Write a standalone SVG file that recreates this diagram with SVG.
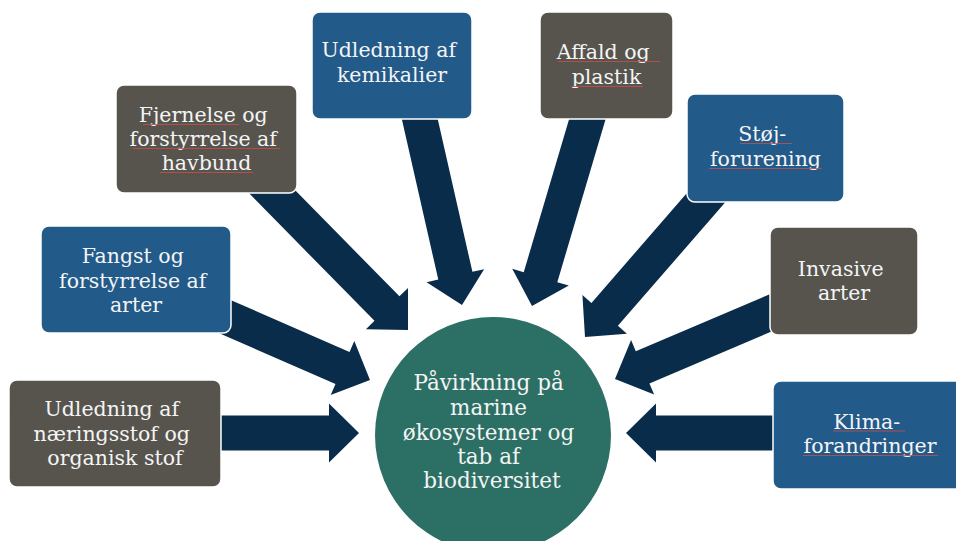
<svg xmlns="http://www.w3.org/2000/svg" width="956" height="541" viewBox="0 0 956 541">
  <style>
    .arrow { fill: #0a2c4b; }
    .box { stroke: #ffffff; stroke-width: 1.5; }
    .gray { fill: #57544e; }
    .blue { fill: #225a8a; }
    .hub { fill: #2c6f64; }
    .lbl { font-family: "DejaVu Serif", "Liberation Serif", serif; font-size: 20.5px; fill: #f4f4f4; text-anchor: middle; }
    .hub-lbl { font-size: 21.5px; }
    .spell { stroke: #c9504d; stroke-width: 1; opacity: 0.8; }
  </style>

  <!-- block arrows pointing into the centre circle (drawn under the boxes) -->
  <g id="connectors">
    <path class="arrow" transform="translate(359 433)" d="M -150 -17.5 H -30 V -29.5 L 0 0 L -30 29.5 V 17.5 H -150 Z"/>
    <path class="arrow" transform="translate(370 380) rotate(23.6)" d="M -170 -17.5 H -30 V -29.5 L 0 0 L -30 29.5 V 17.5 H -170 Z"/>
    <path class="arrow" transform="translate(408 330) rotate(45.5)" d="M -225 -17.5 H -30 V -29.5 L 0 0 L -30 29.5 V 17.5 H -225 Z"/>
    <path class="arrow" transform="translate(462 305) rotate(77.2)" d="M -210 -17.5 H -30 V -29.5 L 0 0 L -30 29.5 V 17.5 H -210 Z"/>
    <path class="arrow" transform="translate(532 306) rotate(106.5)" d="M -205 -17.5 H -30 V -29.5 L 0 0 L -30 29.5 V 17.5 H -205 Z"/>
    <path class="arrow" transform="translate(585 337) rotate(131)" d="M -200 -17.5 H -30 V -29.5 L 0 0 L -30 29.5 V 17.5 H -200 Z"/>
    <path class="arrow" transform="translate(615 379) rotate(157)" d="M -180 -17.5 H -30 V -29.5 L 0 0 L -30 29.5 V 17.5 H -180 Z"/>
    <path class="arrow" transform="translate(626 433) rotate(180)" d="M -170 -17.5 H -30 V -29.5 L 0 0 L -30 29.5 V 17.5 H -170 Z"/>
  </g>

  <g id="hub">
    <circle class="hub" cx="493" cy="435" r="118"/>
    <text class="lbl hub-lbl">
      <tspan x="492" y="390">Påvirkning på</tspan>
      <tspan x="492" y="415">marine</tspan>
      <tspan x="492" y="440">økosystemer og</tspan>
      <tspan x="492" y="464">tab af</tspan>
      <tspan x="492" y="488">biodiversitet</tspan>
    </text>
  </g>

  <g id="naering">
    <rect class="box gray" x="9" y="380" width="212" height="107" rx="8"/>
    <text class="lbl">
      <tspan x="115" y="416">Udledning af</tspan>
      <tspan x="115" y="441">næringsstof og</tspan>
      <tspan x="115" y="465">organisk stof</tspan>
    </text>
  </g>

  <g id="fangst">
    <rect class="box blue" x="41" y="226" width="190" height="107" rx="8"/>
    <text class="lbl">
      <tspan x="136" y="263">Fangst og</tspan>
      <tspan x="136" y="288">forstyrrelse af</tspan>
      <tspan x="136" y="312">arter</tspan>
    </text>
  </g>

  <g id="havbund">
    <rect class="box gray" x="116" y="85" width="181" height="108" rx="8"/>
    <text class="lbl">
      <tspan x="206.5" y="122">Fjernelse og</tspan>
      <tspan x="206.5" y="146">forstyrrelse af</tspan>
      <tspan x="206.5" y="170">havbund</tspan>
    </text>
    <line class="spell" x1="143" y1="124.5" x2="239" y2="124.5"/>
    <line class="spell" x1="133" y1="148.5" x2="280" y2="148.5"/>
    <line class="spell" x1="160" y1="172.5" x2="253" y2="172.5"/>
  </g>

  <g id="kemikalier">
    <rect class="box blue" x="312" y="12" width="160" height="107" rx="8"/>
    <text class="lbl">
      <tspan x="392" y="57">Udledning af</tspan>
      <tspan x="392" y="82">kemikalier</tspan>
    </text>
  </g>

  <g id="affald">
    <rect class="box gray" x="540" y="12" width="133" height="107" rx="8"/>
    <text class="lbl">
      <tspan x="606.5" y="59">Affald og</tspan>
      <tspan x="606.5" y="84">plastik</tspan>
    </text>
    <line class="spell" x1="558" y1="61.5" x2="660" y2="61.5"/>
    <line class="spell" x1="571" y1="86.5" x2="643" y2="86.5"/>
  </g>

  <g id="stoej">
    <rect class="box blue" x="687" y="94" width="157" height="108" rx="8"/>
    <text class="lbl">
      <tspan x="765.5" y="141">Støj-</tspan>
      <tspan x="765.5" y="166">forurening</tspan>
    </text>
    <line class="spell" x1="740" y1="143.5" x2="792" y2="143.5"/>
    <line class="spell" x1="709" y1="168.5" x2="822" y2="168.5"/>
  </g>

  <g id="invasive">
    <rect class="box gray" x="770" y="227" width="148" height="108" rx="8"/>
    <text class="lbl">
      <tspan x="844" y="276">Invasive</tspan>
      <tspan x="844" y="300">arter</tspan>
    </text>
  </g>

  <g id="klima">
    <rect class="box blue" x="773" y="381" width="195" height="108" rx="8"/>
    <text class="lbl">
      <tspan x="870" y="429">Klima-</tspan>
      <tspan x="870" y="453">forandringer</tspan>
    </text>
    <line class="spell" x1="833" y1="431" x2="905" y2="431"/>
    <line class="spell" x1="803" y1="455.5" x2="938" y2="455.5"/>
  </g>
</svg>
